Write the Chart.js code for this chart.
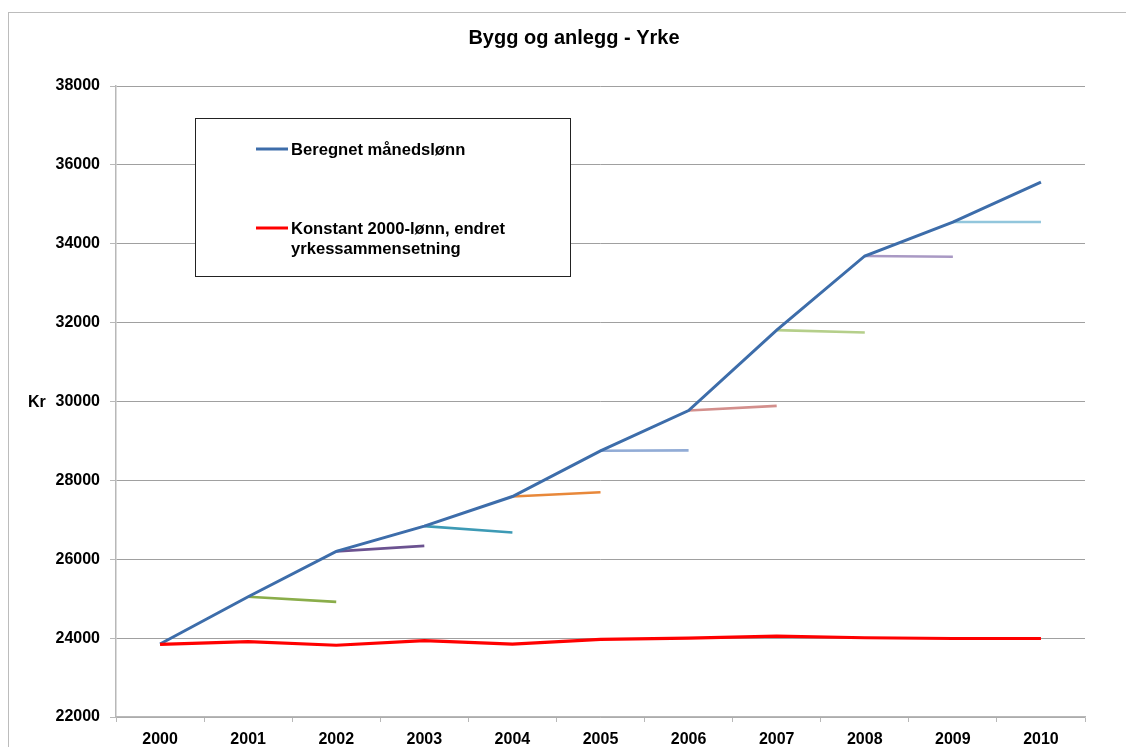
<html>
	<head>
		<script src="https://cdn.jsdelivr.net/npm/chart.js"></script>
		<style>
			body {
				margin: 0;
				overflow: hidden;
				background: #fff;
			}
			.wrap {
				position: relative;
				width: 1126px;
				height: 747px;
			}
			.frame {
				position: absolute;
				left: 8px;
				top: 12px;
				width: 1140px;
				height: 760px;
				border: 1px solid #bcbcbc;
			}
			canvas {
				position: absolute;
				left: 0;
				top: 0;
			}
		</style>
	</head>
	<body>
		<div class="wrap">
			<div class="frame"></div>
			<canvas id="wageChart" width="1126" height="747"></canvas>
		</div>

		<script>
			const years = ['2000', '2001', '2002', '2003', '2004', '2005', '2006', '2007', '2008', '2009', '2010'];
			const beregnet = [23850, 25050, 26200, 26840, 27590, 28750, 29770, 31810, 33690, 34550, 35560];
			const konstant = [23840, 23910, 23820, 23935, 23850, 23970, 24000, 24050, 24010, 23990, 23990];
			// value one year later with the previous year's composition (2002..2010)
			const nextYearSameMix = [24920, 26340, 26680, 27700, 28760, 29890, 31750, 33670, 34550];
			const segmentColors = ['#8aad4a', '#6b5290', '#3d9ab5', '#e8883a', '#92acd6', '#d38f8c', '#b5cf8a', '#a999c4', '#92c6dc'];
			const yTicks = [22000, 24000, 26000, 28000, 30000, 32000, 34000, 36000, 38000];

			const legendItems = [
				{ color: '#3d6daa', lines: ['Beregnet månedslønn'] },
				{ color: '#ff0000', lines: ['Konstant 2000-lønn, endret', 'yrkessammensetning'] }
			];

			const fontFamily = '"Liberation Sans", Arial, sans-serif';

			// short two-point lines starting on the blue curve
			const segments = nextYearSameMix.map((end, k) => {
				const start = k + 1;
				const data = years.map(() => null);
				data[start] = beregnet[start];
				data[start + 1] = end;
				return {
					label: 'seg' + years[start],
					data: data,
					borderColor: segmentColors[k],
					borderWidth: 2.6,
					pointRadius: 0,
					spanGaps: false,
					order: 2
				};
			});

			const extras = {
				id: 'extras',
				afterDraw(chart) {
					const c = chart.ctx;
					c.save();
					c.fillStyle = '#000';
					c.font = 'bold 20px ' + fontFamily;
					c.textAlign = 'center';
					c.textBaseline = 'middle';
					c.fillText('Bygg og anlegg - Yrke', 574, 38);

					c.font = 'bold 16px ' + fontFamily;
					c.textAlign = 'left';
					c.fillText('Kr', 28, 403);

					// legend box
					c.fillStyle = '#fff';
					c.fillRect(195, 118, 376, 158);
					c.strokeStyle = '#222';
					c.lineWidth = 1;
					c.strokeRect(195.5, 118.5, 375, 158);

					c.font = 'bold 16.6px ' + fontFamily;
					const rows = [149, 228];
					legendItems.forEach((item, i) => {
						const y = rows[i];
						c.strokeStyle = item.color;
						c.lineWidth = 3;
						c.beginPath();
						c.moveTo(256, y);
						c.lineTo(288, y);
						c.stroke();
						c.fillStyle = '#000';
						item.lines.forEach((t, j) => c.fillText(t, 291, y + 1 + j * 20));
					});
					c.restore();
				}
			};

			new Chart(document.getElementById('wageChart'), {
				type: 'line',
				data: {
					labels: years,
					datasets: [
						{
							label: 'Beregnet månedslønn',
							data: beregnet,
							borderColor: '#3d6daa',
							borderWidth: 3,
							pointRadius: 0,
							order: 1
						},
						...segments,
						{
							label: 'Konstant 2000-lønn, endret yrkessammensetning',
							data: konstant,
							borderColor: '#ff0000',
							borderWidth: 3.2,
							pointRadius: 0,
							order: 0
						}
					]
				},
				options: {
					responsive: false,
					animation: false,
					layout: {
						padding: { left: 0, right: 41, top: 86, bottom: 0 }
					},
					plugins: {
						legend: { display: false },
						title: { display: false },
						tooltip: { enabled: false }
					},
					scales: {
						x: {
							offset: true,
							grid: {
								offset: true,
								drawOnChartArea: false,
								drawTicks: true,
								tickLength: 5,
								color: '#b8b8b8'
							},
							border: { color: '#b8b8b8', width: 1.5 },
							ticks: {
								color: '#000',
								font: { family: fontFamily, size: 16, weight: 'bold' },
								padding: 8,
								maxRotation: 0
							},
							afterFit(scale) {
								scale.height = 30;
							}
						},
						y: {
							min: 22000,
							max: 38000,
							afterBuildTicks(scale) {
								scale.ticks = yTicks.map(v => ({ value: v }));
							},
							grid: {
								color: '#a0a0a0',
								tickLength: 6,
								tickColor: '#b8b8b8'
							},
							border: { color: '#b8b8b8', width: 1.5 },
							ticks: {
								color: '#000',
								font: { family: fontFamily, size: 16, weight: 'bold' },
								padding: 10,
								callback: v => String(v)
							},
							afterFit(scale) {
								scale.width = 116;
							}
						}
					}
				},
				plugins: [extras]
			});
		</script>
	</body>
</html>
